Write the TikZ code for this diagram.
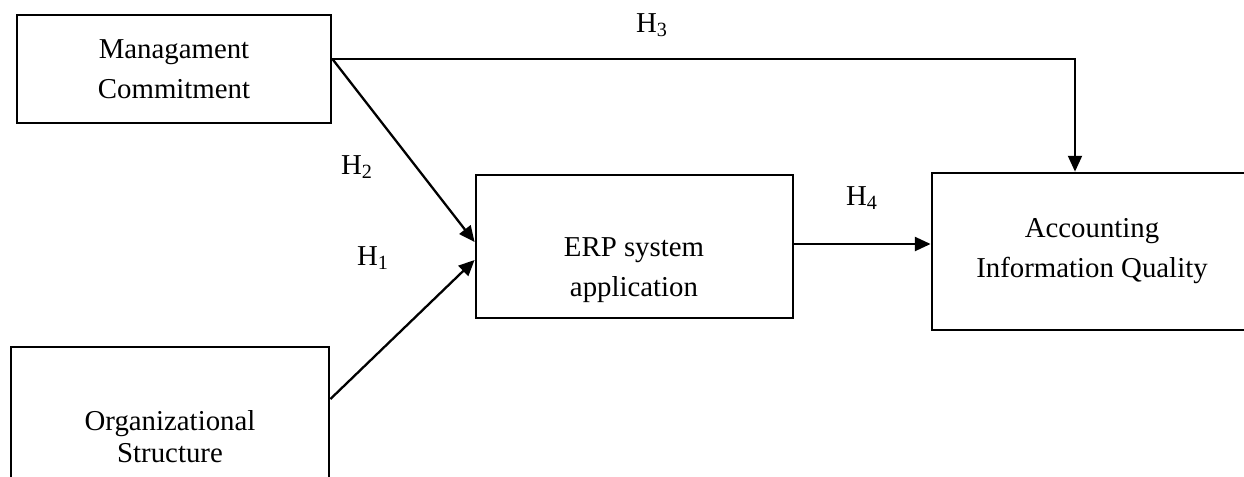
\documentclass[tikz,border=0pt]{standalone}
\usepackage{fontspec}
\setmainfont{Liberation Serif}
\usetikzlibrary{arrows.meta,positioning}

\begin{document}
\begin{tikzpicture}[
        box/.style={draw, line width=1.6pt, align=center, inner sep=0pt,
            font=\fontsize{16.4}{22.7}\selectfont},
        arr/.style={line width=1.3pt, -{Triangle[length=9pt,width=8pt]}},
        hyp/.style={inner sep=0pt, font=\fontsize{16.4}{20}\selectfont}
    ]
            \useasboundingbox (0,0) rectangle (24.88,-9.52);

            \node [box, minimum width=6.28cm, minimum height=2.16cm] (mc) at (3.48,-1.38) {Managament\\Commitment};
            \node [box, minimum width=6.36cm, minimum height=3.6cm,
                font=\fontsize{16.4}{18.2}\selectfont] (org) at (3.40,-8.74) {Organizational\\Structure};
            \node [box, minimum width=6.34cm, minimum height=2.86cm] (erp) at (12.69,-4.93) {};
            \node [box, draw=none] (erptext) at (12.68,-5.40) {ERP system\\application};
            \node [box, minimum width=6.4cm, minimum height=3.14cm] (aiq) at (21.84,-5.03) {Accounting\\Information Quality};

            \coordinate (split) at ([yshift=0.2cm]mc.east);

            \draw [arr] (split) -- ([yshift=0.09cm]erp.west);
            \draw [arr] ([yshift=0.76cm]org.east) -- ([yshift=-0.27cm]erp.west);
            \draw [arr] ([yshift=0.05cm]erp.east) -- ([yshift=0.05cm]erp.east -| aiq.west);
            \draw [arr, line width=1pt] (split) -| ([xshift=-0.34cm]aiq.north);

            \node [hyp] (h3) at (13.04,-0.50) {H\textsubscript{3}};
            \node [hyp] (h2) at (7.14,-3.34) {H\textsubscript{2}};
            \node [hyp] (h1) at (7.46,-5.16) {H\textsubscript{1}};
            \node [hyp] (h4) at (17.24,-3.96) {H\textsubscript{4}};
        \end{tikzpicture}
\end{document}
